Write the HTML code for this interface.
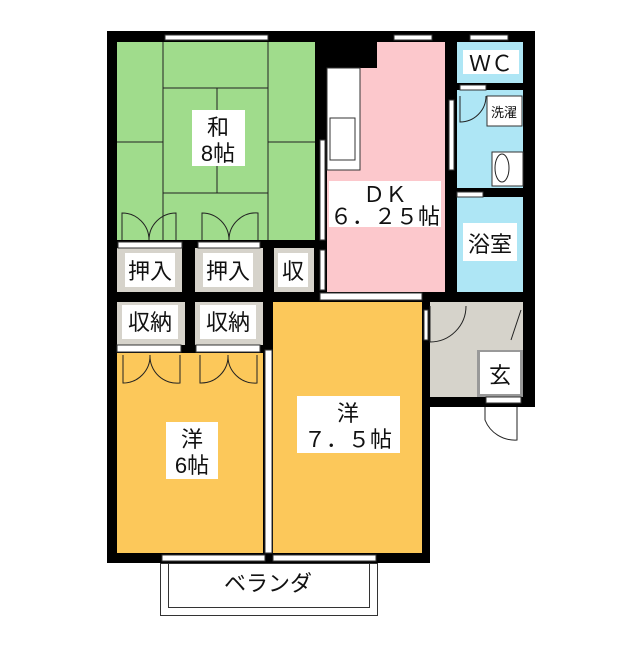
<!DOCTYPE html><html><head><meta charset="utf-8"><style>
body{margin:0;background:#fff}
svg text{font-family:"Liberation Sans","Noto Sans CJK JP",sans-serif;fill:#111}
</style></head><body>
<svg width="640" height="640" viewBox="0 0 640 640" xmlns="http://www.w3.org/2000/svg">
<rect x="107" y="31" width="428" height="271" fill="#000"/>
<rect x="107" y="292" width="323" height="271" fill="#000"/>
<rect x="420" y="292" width="115" height="115" fill="#000"/>
<rect x="117" y="42" width="198" height="198" fill="#a0dc8c"/>
<rect x="327" y="42" width="118" height="250" fill="#fcc8cc"/>
<rect x="327" y="42" width="50" height="26" fill="#000"/>
<rect x="457" y="42" width="66" height="41" fill="#aee6f5"/>
<rect x="457" y="90" width="66" height="98" fill="#aee6f5"/>
<rect x="457" y="197" width="66" height="95" fill="#aee6f5"/>
<rect x="117" y="248" width="65" height="44" fill="#d6d3cb"/>
<rect x="195" y="248" width="68" height="44" fill="#d6d3cb"/>
<rect x="274" y="248" width="40" height="44" fill="#d6d3cb"/>
<rect x="117" y="302" width="68" height="43" fill="#d6d3cb"/>
<rect x="195" y="302" width="68" height="43" fill="#d6d3cb"/>
<rect x="273" y="302" width="149" height="251" fill="#fcc85a"/>
<rect x="117" y="353" width="146" height="200" fill="#fcc85a"/>
<rect x="430" y="302" width="93" height="95" fill="#d6d3cb"/>
<rect x="477" y="350" width="46" height="47" fill="#999"/>
<g stroke="#222" stroke-width="1" fill="none">
<line x1="163" y1="42" x2="163" y2="240"/><line x1="268" y1="42" x2="268" y2="240"/>
<line x1="163" y1="88" x2="268" y2="88"/><line x1="163" y1="193" x2="268" y2="193"/>
<line x1="217" y1="88" x2="217" y2="193"/>
<line x1="117" y1="142" x2="163" y2="142"/><line x1="268" y1="142" x2="315" y2="142"/>
<path d="M122 240 V213 A27 27 0 0 1 149 240 M176 240 V213 A27 27 0 0 0 149 240"/>
<path d="M202 240 V213 A27 27 0 0 1 229 240 M258 240 V213 A27 27 0 0 0 229 240"/>
<path d="M123 355 V383 A27 27 0 0 0 150 355 M180 355 V383 A27 27 0 0 1 150 355"/>
<path d="M200 355 V383 A27 27 0 0 0 228 355 M257 355 V383 A27 27 0 0 1 228 355"/>
<path d="M460 96 V122 A26 26 0 0 0 486 96"/>
<path d="M430 306 V342 A36 36 0 0 0 466 306"/>
<path d="M485 407 V420 A32 32 0 0 0 517 440 V407"/>
<line x1="511" y1="340" x2="521" y2="310"/>
</g>
<g fill="#fff" stroke="#333" stroke-width="1">
<rect x="165" y="35" width="103" height="5"/>
<rect x="394" y="35" width="38" height="5"/>
<rect x="470" y="35" width="38" height="5"/>
<rect x="118" y="242" width="64" height="6"/><rect x="198" y="242" width="62" height="6"/>
<rect x="117" y="345" width="64" height="7"/><rect x="196" y="345" width="64" height="7"/>
<rect x="320" y="140" width="5" height="100"/>
<rect x="320" y="250" width="5" height="40"/>
<rect x="320" y="293" width="102" height="7"/>
<rect x="449" y="100" width="5" height="70"/>
<rect x="460" y="85" width="26" height="5"/>
<rect x="457" y="192" width="26" height="5"/>
<rect x="265" y="350" width="7" height="203"/>
<rect x="162" y="555" width="103" height="6"/>
<rect x="273" y="555" width="103" height="6"/>
<rect x="424" y="310" width="4" height="30"/>
<rect x="486" y="397" width="35" height="6"/>
<rect x="487" y="96" width="35" height="30"/>
<rect x="492" y="152" width="31" height="34"/>
<rect x="327" y="68" width="33" height="102"/>
<rect x="330" y="118" width="25" height="42"/>
<rect x="480" y="352" width="40" height="42" stroke="none"/>
</g>
<ellipse cx="502" cy="168" rx="7" ry="14" fill="none" stroke="#222"/>
<rect x="160.5" y="563.5" width="217" height="52" fill="none" stroke="#333"/>
<rect x="168.5" y="563.5" width="201" height="44" fill="none" stroke="#333"/>
<g fill="#fff">
<rect x="192" y="110" width="53" height="56"/>
<rect x="329" y="181" width="112" height="46"/>
<rect x="463" y="223" width="54" height="38"/>
<rect x="463" y="50" width="56" height="24"/>
<rect x="125" y="253" width="50" height="34"/><rect x="203" y="253" width="50" height="34"/>
<rect x="278" y="253" width="30" height="34"/>
<rect x="122" y="305" width="56" height="34"/><rect x="200" y="305" width="56" height="34"/>
<rect x="166" y="422" width="52" height="57"/>
<rect x="297" y="396" width="103" height="57"/>
</g>
<g font-size="22" text-anchor="middle">
<text x="218" y="135">和</text><text x="218" y="161">8帖</text>
<text x="385" y="202">ＤＫ</text><text x="385" y="224">６．２５帖</text>
<text x="490" y="252">浴室</text>
<text x="491" y="71">ＷＣ</text>
<text x="150" y="279">押入</text><text x="228" y="279">押入</text><text x="293" y="279">収</text>
<text x="150" y="330">収納</text><text x="228" y="330">収納</text>
<text x="192" y="447">洋</text><text x="192" y="473">6帖</text>
<text x="348" y="421">洋</text><text x="348" y="447">７．５帖</text>
<text x="500" y="383">玄</text>
<text x="268" y="591">ベランダ</text>
</g>
<text x="504" y="117" font-size="13" text-anchor="middle">洗濯</text>
</svg>
</body></html>
